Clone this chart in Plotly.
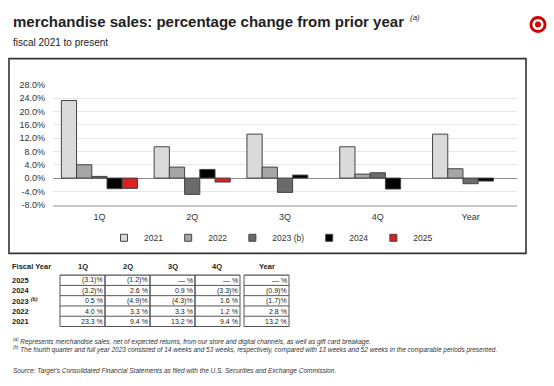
import plotly.graph_objects as go

W, H = 554, 386

# ---------------- data ----------------
quarters = ["1Q", "2Q", "3Q", "4Q", "Year"]
series_names = ["2021", "2022", "2023 (b)", "2024", "2025"]
sales_2021 = [23.3, 9.4, 13.2, 9.4, 13.2]
sales_2022 = [4.0, 3.3, 3.3, 1.2, 2.8]
sales_2023 = [0.5, -4.9, -4.3, 1.6, -1.7]
sales_2024 = [-3.2, 2.6, 0.9, -3.3, -0.9]
sales_2025 = [-3.1, -1.2, None, None, None]
y_tick_values = [-8, -4, 0, 4, 8, 12, 16, 20, 24, 28]

table_row_labels = ["2025", "2024", "2023 <sup><i>(b)</i></sup>", "2022", "2021"]
table_rows = [sales_2025, sales_2024, sales_2023, sales_2022, sales_2021]

title_text = "merchandise sales: percentage change from prior year"
subtitle_text = "fiscal 2021 to present"
footnote_a = "<sup>(a)</sup> Represents merchandise sales, net of expected returns, from our store and digital channels, as well as gift card breakage."
footnote_b = "<sup>(b)</sup> The fourth quarter and full year 2023 consisted of 14 weeks and 53 weeks, respectively, compared with 13 weeks and 52 weeks in the comparable periods presented."
source_text = "Source: Target's Consolidated Financial Statements as filed with the U.S. Securities and Exchange Commission."

# ---------------- styles ----------------
bar_colors = ["#dadada", "#a6a6a6", "#6b6b6b", "#000000", "#dc1f1f"]
outline = "#444444"
FONT = "Liberation Sans, Arial, sans-serif"
TXT = "#222222"


def px(x):
    return x / W


def py(y):
    return 1 - y / H


fig = go.Figure()
all_series = [sales_2021, sales_2022, sales_2023, sales_2024, sales_2025]
for name, vals, col in zip(series_names, all_series, bar_colors):
    fig.add_trace(go.Bar(
        x=quarters, y=vals, name=name, showlegend=False,
        marker=dict(color=col, line=dict(color=outline, width=1)),
        hoverinfo="x+y+name",
    ))
# legend entries with small square swatches
for name, col in zip(series_names, bar_colors):
    fig.add_trace(go.Scatter(
        x=[None], y=[None], mode="markers", name=name,
        marker=dict(symbol="square", size=7, color=col,
                    line=dict(color=outline, width=1)),
    ))

shapes = []
annotations = []

# chart frame
shapes.append(dict(type="rect", xref="paper", yref="paper",
                   x0=px(9), x1=px(526), y0=py(255), y1=py(55),
                   line=dict(color="#333333", width=1.6), layer="below"))

# Target logo
for r, c in [(8.5, "#cc0000"), (5.6, "white"), (3.0, "#cc0000")]:
    shapes.append(dict(type="circle", xref="paper", yref="paper",
                       xsizemode="pixel", ysizemode="pixel",
                       xanchor=px(538), yanchor=py(20),
                       x0=-r, x1=r, y0=-r, y1=r,
                       fillcolor=c, line=dict(width=0)))

# title / subtitle
annotations.append(dict(text="<b>" + title_text + "</b>", xref="paper", yref="paper",
                        x=px(11), y=py(17), xanchor="left", yanchor="middle",
                        showarrow=False, font=dict(family=FONT, size=15, color="#222")))
annotations.append(dict(text="<i>(a)</i>", xref="paper", yref="paper",
                        x=px(408), y=py(13), xanchor="left", yanchor="middle",
                        showarrow=False, font=dict(family=FONT, size=8, color="#222")))
annotations.append(dict(text=subtitle_text, xref="paper", yref="paper",
                        x=px(11), y=py(38), xanchor="left", yanchor="middle",
                        showarrow=False, font=dict(family=FONT, size=10, color="#222")))

# ---------------- table ----------------
tbl_left = 60
col_w = 45
gap = 4
row_top = 277.3
row_h = 10.55
n_rows = len(table_rows)
col_edges = []
for j in range(len(quarters)):
    x0 = tbl_left + j * col_w + (gap if j == len(quarters) - 1 else 0)
    col_edges.append((x0, x0 + col_w))

table_bottom = row_top + n_rows * row_h
# vertical lines
for j, (x0, x1) in enumerate(col_edges):
    for xv in (x0, x1):
        shapes.append(dict(type="line", xref="paper", yref="paper",
                           x0=px(xv), x1=px(xv), y0=py(row_top), y1=py(table_bottom),
                           line=dict(color="#555555", width=1)))
# horizontal lines
blocks = [(col_edges[0][0], col_edges[3][1]), (col_edges[4][0], col_edges[4][1])]
for i in range(n_rows + 1):
    yv = row_top + i * row_h
    for (a, b) in blocks:
        shapes.append(dict(type="line", xref="paper", yref="paper",
                           x0=px(a), x1=px(b), y0=py(yv), y1=py(yv),
                           line=dict(color="#555555", width=1.2 if i in (0, n_rows) else 1)))

hdr_y = 268
annotations.append(dict(text="<b>Fiscal Year</b>", xref="paper", yref="paper",
                        x=px(10), y=py(hdr_y), xanchor="left", yanchor="middle",
                        showarrow=False, font=dict(family=FONT, size=7.5, color=TXT)))
for j, q in enumerate(quarters):
    x0, x1 = col_edges[j]
    annotations.append(dict(text="<b>" + q + "</b>", xref="paper", yref="paper",
                            x=px((x0 + x1) / 2), y=py(hdr_y), xanchor="center", yanchor="middle",
                            showarrow=False, font=dict(family=FONT, size=7.5, color=TXT)))


def fmt(v):
    if v is None:
        return "\u2014 %"
    if v < 0:
        return "(%.1f)%%" % abs(v)
    return "%.1f %%" % v


for i, (lab, vals) in enumerate(zip(table_row_labels, table_rows)):
    yc = row_top + (i + 0.5) * row_h
    annotations.append(dict(text="<b>" + lab + "</b>", xref="paper", yref="paper",
                            x=px(10), y=py(yc), xanchor="left", yanchor="middle",
                            showarrow=False, font=dict(family=FONT, size=7.5, color=TXT)))
    for j, v in enumerate(vals):
        x0, x1 = col_edges[j]
        annotations.append(dict(text=fmt(v), xref="paper", yref="paper",
                                x=px(x1 - 0.5), y=py(yc), xanchor="right", yanchor="middle",
                                showarrow=False, font=dict(family=FONT, size=7, color=TXT)))

# footnotes
for txt, yv in [(footnote_a, 345), (footnote_b, 353.5), (source_text, 376)]:
    annotations.append(dict(text="<i>" + txt + "</i>", xref="paper", yref="paper",
                            x=px(11), y=py(yv), xanchor="left", yanchor="middle",
                            showarrow=False, font=dict(family=FONT, size=6.5, color="#333")))

fig.update_layout(
    width=W, height=H,
    margin=dict(l=0, r=0, t=0, b=0),
    paper_bgcolor="white", plot_bgcolor="white",
    barmode="group", bargap=0.18, bargroupgap=0,
    font=dict(family=FONT, color="#333"),
    xaxis=dict(domain=[px(53), px(517)], type="category",
               showline=True, linecolor="#c8c8c8", linewidth=1.5,
               showgrid=False, ticks="", ticklabelstandoff=3,
               tickfont=dict(family=FONT, size=9, color="#333"), fixedrange=True),
    yaxis=dict(domain=[py(205), py(82)], range=[-8, 28],
               tickvals=y_tick_values, ticktext=["%.1f%%" % t for t in y_tick_values],
               showgrid=True, gridcolor="#e6e6e6", gridwidth=1,
               zeroline=True, zerolinecolor="#8a8a8a", zerolinewidth=1,
               showline=False, ticks="", ticklabelstandoff=7,
               tickfont=dict(family=FONT, size=9, color="#333"), fixedrange=True),
    legend=dict(orientation="h", x=px(104), y=py(239), xanchor="left", yanchor="middle",
                font=dict(family=FONT, size=8.5, color="#333"),
                bgcolor="rgba(0,0,0,0)", itemclick=False, itemdoubleclick=False),
    shapes=shapes, annotations=annotations,
)

fig.write_html("out.html", config={"displayModeBar": False},
               post_script="document.body.style.margin='0';document.body.style.overflow='hidden';")
